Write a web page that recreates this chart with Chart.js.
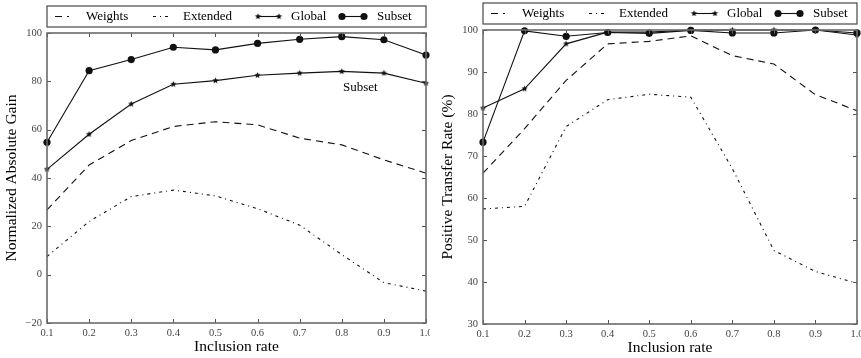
<!DOCTYPE html>
<html><head><meta charset="utf-8">
<script src="https://cdn.jsdelivr.net/npm/chart.js@4"></script>
<style>
html,body{margin:0;padding:0;background:#fff;overflow:hidden;}
#w{position:relative;width:861px;height:358px;}
.c{position:absolute;top:0;height:358px;}
</style></head><body>
<div id="w">
<div class="c" style="left:0;width:430px"><canvas id="c1"></canvas></div>
<div class="c" style="left:430px;width:431px"><canvas id="c2"></canvas></div>
</div>
<script>
// ---- data ----
const inclusionRates = [0.1, 0.2, 0.3, 0.4, 0.5, 0.6, 0.7, 0.8, 0.9, 1.0];
const seriesNames = ['Weights', 'Extended', 'Global', 'Subset'];
// left panel: Normalized Absolute Gain
const gainWeights  = [26.8, 45.4, 55.5, 61.3, 63.3, 62.0, 56.5, 53.7, 47.5, 42.0];
const gainExtended = [7.5, 22.0, 32.3, 35.0, 32.6, 27.3, 20.5, 8.3, -3.3, -6.8];
const gainGlobal   = [43.6, 58.1, 70.6, 78.8, 80.3, 82.5, 83.4, 84.1, 83.4, 79.2];
const gainSubset   = [54.8, 84.4, 89.0, 94.1, 93.0, 95.7, 97.4, 98.5, 97.2, 90.9];
const gainTicks    = [-20, 0, 20, 40, 60, 80, 100];
const gainNote     = {text: 'Subset', x: 0.844, y: 77.5};
// right panel: Positive Transfer Rate (%)
const ptrWeights   = [65.9, 76.5, 88.0, 96.7, 97.3, 98.6, 93.9, 91.9, 84.6, 80.8];
const ptrExtended  = [57.4, 58.0, 77.0, 83.4, 84.7, 84.0, 67.0, 47.5, 42.5, 39.7];
const ptrGlobal    = [81.4, 86.0, 96.7, 99.5, 99.5, 100, 100, 100, 100, 98.8];
const ptrSubset    = [73.3, 99.8, 98.5, 99.4, 99.2, 99.9, 99.3, 99.3, 100, 99.3];
const ptrTicks     = [30, 40, 50, 60, 70, 80, 90, 100];

// ---- styling ----
const SERIF = '"Liberation Serif", "DejaVu Serif", serif';
const INK = '#111';

function makeStar(r) {
  const c = document.createElement('canvas');
  const s = Math.ceil(r * 2 + 2);
  c.width = s; c.height = s;
  const g = c.getContext('2d');
  g.fillStyle = INK;
  g.beginPath();
  for (let i = 0; i < 10; i++) {
    const rad = i % 2 === 0 ? r : r * 0.45;
    const a = -Math.PI / 2 + i * Math.PI / 5;
    const px = s / 2 + rad * Math.cos(a), py = s / 2 + rad * Math.sin(a);
    if (i === 0) g.moveTo(px, py); else g.lineTo(px, py);
  }
  g.closePath(); g.fill();
  return c;
}
const starImg = makeStar(3.3);

const styles = [
  {borderDash: [7, 5], pointRadius: 0},
  {borderDash: [3, 4, 1, 4], pointRadius: 0},
  {borderDash: [], pointStyle: starImg, pointRadius: 3.5},
  {borderDash: [], pointStyle: 'circle', pointRadius: 3.6}
];

function toPoints(vals) { return vals.map((v, i) => ({x: inclusionRates[i], y: v})); }

function buildDatasets(arrs) {
  return arrs.map((vals, i) => ({
    label: seriesNames[i],
    data: toPoints(vals),
    borderColor: INK,
    backgroundColor: INK,
    borderWidth: 1.1,
    borderDash: styles[i].borderDash,
    pointStyle: styles[i].pointStyle || 'circle',
    pointRadius: styles[i].pointRadius,
    pointBorderWidth: 0,
    pointBackgroundColor: INK,
    tension: 0,
    clip: 5,
    order: 4 - i
  }));
}

const legendLayout = {
  sampleStart: [8, 106, 211, 295],
  sampleLen:   [14, 15, 21, 22],
  textStart:   [39, 136, 244, 330]
};

const framePlugin = {
  id: 'framePlugin',
  afterDraw(chart, args, opts) {
    const {ctx, chartArea: a, scales: {x, y}} = chart;
    ctx.save();
    // inward ticks
    ctx.strokeStyle = '#555';
    ctx.lineWidth = 1;
    ctx.beginPath();
    y.ticks.forEach(t => {
      const py = Math.round(y.getPixelForValue(t.value)) + 0.5;
      ctx.moveTo(a.left, py); ctx.lineTo(a.left + 4, py);
      ctx.moveTo(a.right, py); ctx.lineTo(a.right - 4, py);
    });
    x.ticks.forEach(t => {
      const px = Math.round(x.getPixelForValue(t.value)) + 0.5;
      ctx.moveTo(px, a.bottom); ctx.lineTo(px, a.bottom - 4);
      ctx.moveTo(px, a.top); ctx.lineTo(px, a.top + 4);
    });
    ctx.stroke();
    // spines
    ctx.strokeStyle = '#6a6a6a';
    ctx.lineWidth = 1.6;
    ctx.strokeRect(a.left, a.top, a.right - a.left, a.bottom - a.top);
    // legend box
    const bt = a.top - 27, bh = 21;
    ctx.strokeStyle = '#555';
    ctx.lineWidth = 1.3;
    ctx.strokeRect(a.left, bt, a.right - a.left, bh);
    const cy = bt + bh / 2;
    ctx.font = '13px ' + SERIF;
    ctx.fillStyle = '#000';
    ctx.textBaseline = 'middle';
    chart.data.datasets.forEach((ds, i) => {
      const sx = a.left + legendLayout.sampleStart[i];
      const ex = sx + legendLayout.sampleLen[i];
      ctx.strokeStyle = INK;
      ctx.lineWidth = 1.1;
      ctx.setLineDash(ds.borderDash || []);
      ctx.beginPath();
      ctx.moveTo(sx, cy); ctx.lineTo(ex, cy);
      ctx.stroke();
      ctx.setLineDash([]);
      if (ds.pointRadius > 0) {
        [sx, ex].forEach(px => {
          if (ds.pointStyle === 'circle') {
            ctx.fillStyle = INK;
            ctx.beginPath(); ctx.arc(px, cy, ds.pointRadius, 0, Math.PI * 2); ctx.fill();
          } else {
            const im = ds.pointStyle;
            ctx.drawImage(im, px - im.width / 2, cy - im.height / 2);
          }
        });
      }
      ctx.fillStyle = '#000';
      ctx.fillText(ds.label, a.left + legendLayout.textStart[i], cy + 0.5);
    });
    // annotation
    if (opts && opts.note) {
      ctx.font = '13px ' + SERIF;
      ctx.textAlign = 'center';
      ctx.fillStyle = '#000';
      ctx.fillText(opts.note.text, x.getPixelForValue(opts.note.x), y.getPixelForValue(opts.note.y));
    }
    ctx.restore();
  }
};

function makeChart(id, arrs, yTicks, yTitle, cfg) {
  return new Chart(document.getElementById(id), {
    type: 'line',
    data: {datasets: buildDatasets(arrs)},
    options: {
      responsive: true,
      maintainAspectRatio: false,
      animation: false,
      devicePixelRatio: 1,
      layout: {padding: {top: cfg.top, right: 0, left: 0, bottom: 0}},
      plugins: {
        legend: {display: false},
        tooltip: {enabled: false},
        framePlugin: {note: cfg.note}
      },
      scales: {
        x: {
          type: 'linear',
          min: inclusionRates[0],
          max: inclusionRates[inclusionRates.length - 1],
          afterBuildTicks: s => { s.ticks = inclusionRates.map(v => ({value: v})); },
          afterFit: s => { s.height = cfg.xh; s.paddingLeft = 0; s.paddingRight = 0; },
          grid: {display: false, drawTicks: false},
          border: {display: false},
          ticks: {
            padding: 4, color: '#444', maxRotation: 0, autoSkip: false,
            font: {family: SERIF, size: 10.5},
            callback: v => Number(v).toFixed(1)
          },
          title: {
            display: true, text: 'Inclusion rate', color: '#000',
            font: {family: SERIF, size: 15.5},
            padding: {top: 0, bottom: cfg.xtb}
          }
        },
        y: {
          type: 'linear',
          min: yTicks[0],
          max: yTicks[yTicks.length - 1],
          afterBuildTicks: s => { s.ticks = yTicks.map(v => ({value: v})); },
          afterFit: s => { s.width = cfg.yw; },
          grid: {display: false, drawTicks: false},
          border: {display: false},
          ticks: {
            padding: 5, color: '#444',
            font: {family: SERIF, size: 10.5},
            callback: v => v < 0 ? '\u2212' + Math.abs(v) : String(v)
          },
          title: {
            display: true, text: yTitle, color: '#000',
            font: {family: SERIF, size: 15.5},
            padding: {top: cfg.ytp, bottom: 0}
          }
        }
      }
    },
    plugins: [framePlugin]
  });
}

makeChart('c1', [gainWeights, gainExtended, gainGlobal, gainSubset], gainTicks,
  'Normalized Absolute Gain', {top: 33, xh: 35, yw: 47, xtb: 2, ytp: 3, note: gainNote});
makeChart('c2', [ptrWeights, ptrExtended, ptrGlobal, ptrSubset], ptrTicks,
  'Positive Transfer Rate (%)', {top: 30, xh: 34, yw: 53, xtb: 1, ytp: 9, note: null});
</script>
</body></html>
